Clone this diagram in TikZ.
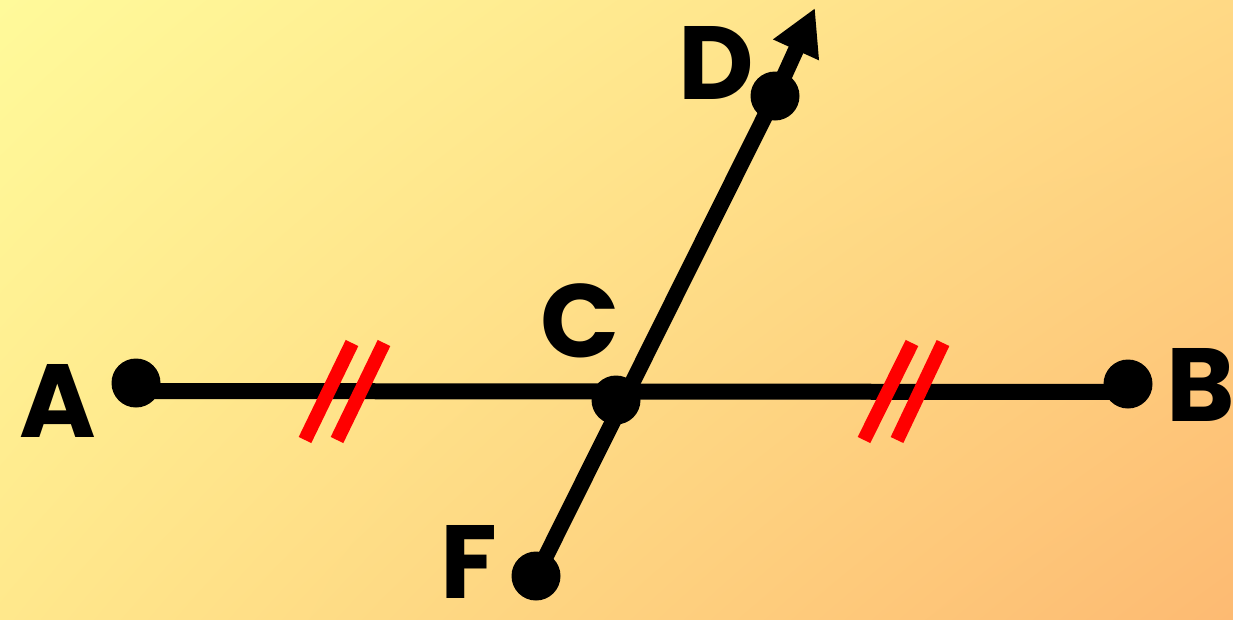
\documentclass[tikz,border=0pt]{standalone}
\usepackage{fontspec}
\newfontfamily\labfont{Poppins}
\usetikzlibrary{arrows.meta,shadings}
\definecolor{bgUL}{HTML}{FFFA9A}
\definecolor{bgUR}{HTML}{FFD985}
\definecolor{bgLL}{HTML}{FFE88C}
\definecolor{bgLR}{HTML}{FDBA72}
\definecolor{tickred}{HTML}{FF0000}
\tikzset{
  dot/.style={circle, fill=black, inner sep=0pt, minimum size=49pt},
  seg/.style={line width=16pt, black},
  tick/.style={line width=14pt, tickred},
  lab/.style={inner sep=0pt, font=\labfont\bfseries\fontsize{104}{104}\selectfont}
}
\begin{document}
\begin{tikzpicture}[x=1pt, y=-1pt]
\shade[upper left=bgUL, upper right=bgUR, lower left=bgLL, lower right=bgLR] (0,0) rectangle (1233,619);
\useasboundingbox (0,0) rectangle (1233,619);
% points
\node[dot] (A) at (136,383) {};
\node[dot] (B) at (1128,384) {};
\node[dot] (C) at (616,400) {};
\node[dot] (D) at (775,96) {};
\node[dot] (F) at (536,576) {};
\coordinate (tip) at (815,8);
% lines
\draw[seg] ([yshift=-8pt]A.center) -- ([yshift=-8pt]B.center);
\draw[seg] (F.center) -- (D.center);
\draw[seg, -{Triangle[length=46pt, width=47pt]}] (D.center) -- (tip);
% ticks
\coordinate (t1a) at (352,343); \coordinate (t1b) at (305,440);
\coordinate (t2a) at (384,343); \coordinate (t2b) at (337,440);
\coordinate (t3a) at (912,343); \coordinate (t3b) at (864,440);
\coordinate (t4a) at (943,343); \coordinate (t4b) at (897,440);
\draw[tick] (t1a) -- (t1b);
\draw[tick] (t2a) -- (t2b);
\draw[tick] (t3a) -- (t3b);
\draw[tick] (t4a) -- (t4b);
% labels
\node[lab] (lA) at (58,401) {A};
\node[lab] (lB) at (1201,385) {B};
\node[lab] (lC) at (580,321) {C};
\node[lab] (lD) at (716,63) {D};
\node[lab] (lF) at (469,562) {F};
\end{tikzpicture}
\end{document}
